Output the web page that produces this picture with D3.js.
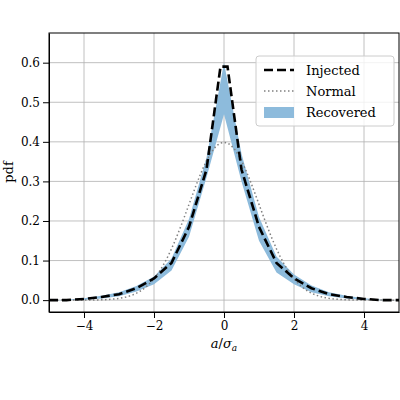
<!DOCTYPE html><html><head><script src="https://cdn.jsdelivr.net/npm/d3@7"></script>
<style>body{margin:0;background:#fff}text{font-family:"DejaVu Serif",serif}</style></head><body><svg width="400" height="400"></svg><script>
const injX=[-5,-4.5,-4,-3.5,-3,-2.5,-2,-1.5,-1,-0.5,-0.1,0.1,0.5,1,1.5,2,2.5,3,3.5,4,4.5,5];
const injY=[0,0,0.003,0.008,0.015,0.03,0.055,0.094,0.185,0.33,0.59,0.59,0.33,0.185,0.094,0.055,0.03,0.015,0.008,0.003,0,0];
const recX=[-5,-4.5,-4,-3.5,-3,-2.5,-2,-1.5,-1,-0.5,0,0.5,1,1.5,2,2.5,3,3.5,4,4.5,5];
const recLo=[0,0,0.001,0.004,0.01,0.022,0.04,0.075,0.16,0.31,0.47,0.3,0.15,0.07,0.04,0.02,0.01,0.004,0.001,0,0];
const recHi=[0,0.001,0.005,0.011,0.02,0.036,0.06,0.105,0.205,0.36,0.6,0.37,0.21,0.11,0.065,0.037,0.02,0.011,0.005,0.001,0];
const normX=d3.range(-5,5.001,0.1);
const normY=normX.map(x=>Math.exp(-x*x/2)/Math.sqrt(2*Math.PI));
const xTicks=[-4,-2,0,2,4], yTicks=[0,0.1,0.2,0.3,0.4,0.5,0.6];
const svg=d3.select("svg"),L=49,R=399,T=33,B=312;
const x=d3.scaleLinear([-5,5],[L,R]), y=d3.scaleLinear([-0.03,0.675],[B,T]);
const g=svg.append("g");
xTicks.forEach(t=>g.append("line").attr("x1",x(t)).attr("x2",x(t)).attr("y1",T).attr("y2",B).attr("stroke","#b0b0b0").attr("stroke-width",0.8));
yTicks.forEach(t=>g.append("line").attr("x1",L).attr("x2",R).attr("y1",y(t)).attr("y2",y(t)).attr("stroke","#b0b0b0").attr("stroke-width",0.8));
svg.append("path").datum(recX.map((v,i)=>[v,recLo[i],recHi[i]])).attr("d",d3.area().x(d=>x(d[0])).y0(d=>y(d[1])).y1(d=>y(d[2]))).attr("fill","#8dbbdc");
svg.append("path").datum(normX.map((v,i)=>[v,normY[i]])).attr("d",d3.line().x(d=>x(d[0])).y(d=>y(d[1]))).attr("fill","none").attr("stroke","#808080").attr("stroke-width",1.5).attr("stroke-dasharray","1.5,2.5");
svg.append("path").datum(injX.map((v,i)=>[v,injY[i]])).attr("d",d3.line().x(d=>x(d[0])).y(d=>y(d[1]))).attr("fill","none").attr("stroke","#000").attr("stroke-width",2.6).attr("stroke-dasharray","9,4");
svg.append("g").attr("transform",`translate(0,${B})`).call(d3.axisBottom(x).tickValues(xTicks).tickFormat(d=>d<0?"−"+(-d):d).tickSizeOuter(0)).call(a=>a.selectAll("text").attr("font-size",12).attr("font-family","DejaVu Serif"));
svg.append("g").attr("transform",`translate(${L},0)`).call(d3.axisLeft(y).tickValues(yTicks).tickFormat(d3.format(".1f")).tickSizeOuter(0)).call(a=>a.selectAll("text").attr("font-size",12).attr("font-family","DejaVu Serif"));
svg.append("rect").attr("x",L).attr("y",T).attr("width",R-L).attr("height",B-T).attr("fill","none").attr("stroke","#000");
svg.append("text").attr("x",(L+R)/2).attr("y",348).attr("text-anchor","middle").attr("font-size",13).html('<tspan font-style="italic">a</tspan>/<tspan font-style="italic">σ</tspan><tspan font-style="italic" font-size="9" dy="3">a</tspan>');
svg.append("text").attr("transform","translate(13,172) rotate(-90)").attr("text-anchor","middle").attr("font-size",13).text("pdf");
const lg=svg.append("g").attr("transform","translate(256,56)");
lg.append("rect").attr("width",138).attr("height",70).attr("rx",3).attr("fill","rgba(255,255,255,0.8)").attr("stroke","#ccc");
const items=[["Injected","dash"],["Normal","dot"],["Recovered","fill"]];
items.forEach((it,i)=>{const yy=14+i*21;
 if(it[1]=="fill")lg.append("rect").attr("x",8).attr("y",yy-5).attr("width",30).attr("height",11).attr("fill","#8dbbdc");
 else lg.append("line").attr("x1",8).attr("x2",38).attr("y1",yy).attr("y2",yy).attr("stroke",it[1]=="dash"?"#000":"#808080").attr("stroke-width",it[1]=="dash"?2.6:1.5).attr("stroke-dasharray",it[1]=="dash"?"9,4":"1.5,2.5");
 lg.append("text").attr("x",50).attr("y",yy+4.5).attr("font-size",13).text(it[0]);});
</script></body></html>
